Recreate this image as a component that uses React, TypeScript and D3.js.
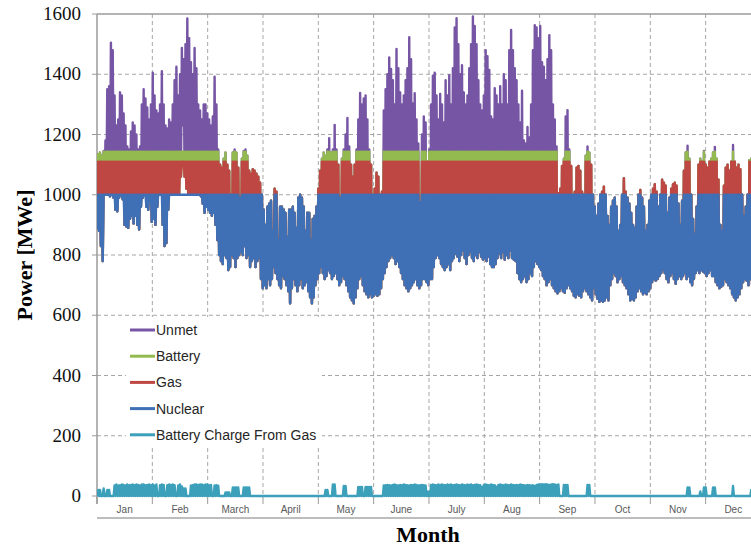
import React from 'react';
import * as d3 from 'd3';

// month labels on the category axis (12 equal bands of 730 h each)
const months = ['Jan', 'Feb', 'March', 'April', 'May', 'June', 'July', 'Aug', 'Sep', 'Oct', 'Nov', 'Dec'];
const yTicks = [0, 200, 400, 600, 800, 1000, 1200, 1400, 1600];

// stack tops [MWe]
const nuclearCap = 1000;
const gasTop = 1110;
const batteryTop = 1143;

// daily peak of total demand [MWe], day 0..364
const dailyPeak = [
  // d0-30
  1135, 1140, 1130, 1145, 1180, 1350, 1360, 1505, 1480, 1330,
  1230, 1250, 1340, 1330, 1270, 1230, 1160, 1150, 1210, 1240,
  1230, 1200, 1150, 1160, 1300, 1350, 1320, 1290, 1250, 1300,
  1405,
  // d31-58
  1330, 1280, 1270, 1300, 1410, 1300, 1230, 1220, 1250, 1240,
  1300, 1380, 1425, 1330, 1400, 1487, 1450, 1500, 1585, 1520,
  1440, 1400, 1487, 1420, 1300, 1280, 1250, 1300,
  // d59-89
  1300, 1270, 1250, 1230, 1260, 1392, 1300, 1150, 1100, 1090,
  1120, 1140, 1100, 1080, 1000, 1140, 1150, 1140, 1090, 990,
  1120, 1145, 1150, 1130, 1080, 1070, 1085, 1080, 1070, 1060,
  1040,
  // d90-119
  1000, 950, 900, 960, 970, 980, 880, 1020, 1010, 850,
  960, 960, 950, 940, 860, 950, 950, 960, 940, 890,
  990, 1000, 990, 960, 880, 940, 940, 850, 920, 930,
  // d120-150
  960, 1020, 1080, 1120, 1140, 1130, 1150, 1188, 1140, 1150,
  1232, 1150, 1100, 990, 1120, 1150, 1200, 1255, 1160, 1100,
  1060, 1100, 1150, 1250, 1338, 1300, 1320, 1330, 1250, 1150,
  1100,
  // d151-181
  1000, 1020, 1073, 1060, 1000, 1010, 1280, 1350, 1400, 1456,
  1418, 1380, 1300, 1484, 1420, 1340, 1300, 1330, 1380, 1420,
  1523, 1450, 1303, 1337, 1250, 1170, 975, 1200, 1260, 1240,
  1110,
  // d182-212
  1150, 1300, 1395, 1405, 1330, 1250, 1335, 1300, 1240, 1380,
  1330, 1397, 1300, 1420, 1555, 1586, 1500, 1400, 1430, 1340,
  1300, 1330, 1420, 1500, 1592, 1560, 1500, 1380, 1300, 1280,
  1330,
  // d213-243
  1480, 1460, 1414, 1260, 1250, 1354, 1330, 1300, 1360, 1300,
  1400, 1380, 1300, 1480, 1547, 1480, 1420, 1380, 1300, 1240,
  1345, 1180, 1170, 1225, 1190, 1300, 1480, 1563, 1555, 1520,
  1560,
  // d244-272
  1440, 1425, 1380, 1450, 1530, 1480, 1300, 1250, 1160, 1005,
  1020, 1096, 1120, 1260, 1281, 1150, 1096, 1000, 1010, 1090,
  1096, 1080, 1010, 1000, 1130, 1160, 1140, 1100, 1000,
  // d273-364
  960, 930, 970, 1000, 1010, 1027, 1000, 930, 900, 960,
  980, 990, 960, 880, 900, 1000, 1055, 1010, 990, 970,
  940, 900, 890, 960, 1000, 1016, 990, 960, 880, 900,
  980, 1000, 1020, 1035, 1010, 960, 1000, 1050, 1040, 1030,
  940, 990, 1020, 1035, 1040, 1030, 970, 900, 980, 1080,
  1140, 1163, 1120, 1000, 920, 870, 960, 1100, 1120, 1110,
  1145, 1100, 1090, 1110, 1120, 1140, 1159, 1120, 1050, 900,
  880, 1030, 1090, 1100, 1080, 1110, 1165, 1110, 1090, 1100,
  1085, 1000, 930, 960, 1000, 1115, 1120, 1100, 1090, 1080,
  1060, 1040,
];

// daily (night) minimum of total demand [MWe]
const dailyLow = [
  // d0-30
  885, 880, 830, 780, 1000, 1000, 1000, 995, 1000, 990,
  950, 945, 990, 1000, 985, 900, 895, 890, 920, 930,
  905, 930, 900, 885, 960, 990, 1000, 960, 950, 980,
  910,
  // d31-58
  920, 900, 960, 1000, 1000, 900, 830, 840, 950, 1000,
  1000, 1000, 1000, 1000, 1000, 1060, 1230, 1060, 1020, 1000,
  1000, 1000, 1000, 1000, 1000, 1000, 995, 970,
  // d59-89
  940, 960, 950, 940, 930, 940, 900, 850, 800, 780,
  770, 800, 790, 750, 760, 800, 790, 760, 790, 800,
  810, 800, 830, 790, 800, 760, 780, 790, 760, 780,
  790,
  // d90-119
  720, 690, 700, 690, 720, 700, 720, 760, 740, 720,
  700, 690, 730, 720, 700, 680, 640, 690, 720, 700,
  680, 700, 720, 690, 700, 710, 680, 660, 640, 660,
  // d120-150
  700, 720, 740, 760, 740, 720, 730, 750, 740, 720,
  730, 740, 720, 700, 710, 730, 720, 700, 680, 660,
  650, 640, 660, 690, 720, 730, 700, 680, 670, 660,
  670,
  // d151-181
  660, 665, 670, 665, 670, 690, 720, 740, 760, 780,
  790, 800, 790, 770, 780, 760, 740, 720, 700, 690,
  680, 690, 700, 710, 720, 700, 690, 700, 720, 720,
  710,
  // d182-212
  700, 720, 720, 760, 790, 800, 790, 770, 760, 750,
  760, 770, 750, 780, 790, 805, 795, 780, 800, 815,
  790, 770, 800, 810, 790, 780, 800, 790, 810, 795,
  785,
  // d213-243
  790, 780, 795, 770, 760, 760, 770, 790, 805, 790,
  810, 785, 800, 790, 815, 790, 785, 780, 740, 720,
  710, 720, 730, 710, 720, 740, 730, 760, 780, 770,
  760,
  // d244-272
  750, 730, 720, 700, 710, 720, 700, 690, 680, 673,
  680, 690, 680, 675, 690, 700, 690, 680, 665, 660,
  670, 665, 660, 680, 690, 680, 670, 660, 650,
  // d273-364
  690, 670, 655, 645, 650, 645, 650, 660, 650, 700,
  720, 740, 730, 710, 720, 730, 710, 700, 690, 670,
  650, 655, 650, 660, 680, 690, 680, 670, 675, 670,
  680, 690, 710, 720, 715, 720, 730, 740, 750, 740,
  720, 710, 730, 740, 720, 705, 720, 730, 720, 730,
  740, 720, 730, 710, 700, 720, 740, 750, 740, 750,
  745, 740, 730, 740, 750, 730, 730, 710, 700, 690,
  695, 700, 720, 710, 700, 690, 670, 660, 650, 660,
  670, 690, 710, 720, 715, 700, 720, 700, 690, 680,
  690, 700,
];

// daily peak of battery charging from gas [MWe]
const batteryCharge = [
  20, 20, 0, 25, 0, 20, 20, 0, 0, 35, 38, 35, 36, 38, 37, 35, 38, 36, 37, 38,
  36, 38, 37, 35, 38, 38, 36, 37, 38, 36, 38, 35, 38, 0, 36, 38, 37, 0, 36, 38,
  37, 38, 36, 0, 35, 38, 32, 25, 25, 0, 0, 35, 36, 38, 38, 37, 38, 38, 36, 38,
  38, 36, 37, 0, 35, 36, 34, 0, 0, 0, 12, 12, 12, 0, 28, 28, 28, 28, 0, 0,
  28, 28, 28, 28, 0, 0, 0, 0, 0, 0, 0, 0, 0, 0, 0, 0, 0, 0, 0, 0,
  0, 0, 0, 0, 0, 0, 0, 0, 0, 0, 0, 0, 0, 0, 0, 0, 0, 0, 0, 0,
  0, 0, 0, 0, 0, 20, 20, 0, 0, 38, 38, 0, 0, 0, 0, 33, 33, 0, 0, 0,
  0, 0, 0, 30, 30, 30, 0, 30, 30, 30, 30, 0, 0, 0, 0, 0, 0, 35, 36, 37,
  36, 35, 37, 38, 36, 35, 37, 36, 38, 37, 36, 35, 37, 36, 38, 37, 35, 36, 37, 36,
  35, 14, 14, 37, 38, 37, 36, 38, 37, 38, 37, 36, 38, 37, 38, 36, 37, 38, 37, 36,
  38, 37, 36, 38, 37, 38, 36, 37, 38, 37, 36, 30, 37, 38, 37, 36, 38, 37, 36, 31,
  37, 38, 37, 36, 38, 37, 36, 38, 37, 36, 37, 36, 38, 37, 36, 35, 37, 36, 35, 36,
  33, 37, 38, 38, 39, 38, 39, 38, 37, 38, 39, 38, 37, 38, 0, 0, 37, 37, 37, 0,
  0, 0, 0, 0, 0, 0, 0, 0, 0, 37, 37, 0, 0, 0, 0, 0, 0, 0, 0, 0,
  0, 0, 0, 0, 0, 0, 0, 0, 0, 0, 0, 0, 0, 0, 0, 0, 0, 0, 0, 0,
  0, 0, 0, 0, 0, 0, 0, 0, 0, 0, 0, 0, 0, 0, 0, 0, 0, 0, 0, 0,
  0, 0, 0, 0, 28, 28, 0, 0, 0, 0, 0, 15, 0, 28, 28, 0, 0, 0, 28, 28,
  0, 0, 0, 0, 0, 0, 0, 0, 0, 33, 0, 0, 0, 0, 0, 0, 0, 0, 0, 20,
  0, 0, 0, 0, 0,
];

const colors = {
  unmet: '#7655A4',
  battery: '#92BA4E',
  gas: '#BE4744',
  nuclear: '#3F70B6',
  charge: '#3CA0BA',
};

export default function App() {
  const width = 751;
  const height = 546;
  const left = 97;
  const top = 14;
  const bottom = 496;
  const monthW = 55.33;

  const x = d3.scaleLinear().domain([0, 365]).range([left, left + 12 * monthW]);
  const y = d3.scaleLinear().domain([0, 1600]).range([bottom, top]);
  const line = d3.line<number[]>().x(d => x(d[0])).y(d => y(d[1]));

  // two samples a day: night low, afternoon peak
  const demand = dailyPeak.flatMap((p, i) => [[i + 0.15, dailyLow[i]], [i + 0.65, p]]);
  const capped = (cap: number) => demand.map(([t, v]) => [t, Math.min(v, cap)]);
  const charge = batteryCharge.flatMap((c, i) => [[i + 0.15, 0], [i + 0.65, c]]);

  const series = [
    {name: 'Unmet', color: colors.unmet, pts: demand},
    {name: 'Battery', color: colors.battery, pts: capped(batteryTop)},
    {name: 'Gas', color: colors.gas, pts: capped(gasTop)},
    {name: 'Nuclear', color: colors.nuclear, pts: capped(nuclearCap)},
  ];

  const bounds = d3.range(13).map(k => k * 365 / 12);
  const legend = [
    {name: 'Unmet', color: colors.unmet},
    {name: 'Battery', color: colors.battery},
    {name: 'Gas', color: colors.gas},
    {name: 'Nuclear', color: colors.nuclear},
    {name: 'Battery Charge From Gas', color: colors.charge},
  ];
  const grid = '#A6A6A6';

  return (
    <svg width={width} height={height} style={{position: 'absolute', left: 0, top: 0, background: '#fff'}}>
      <defs>
        <clipPath id="plot">
          <rect x={left} y={0} width={width - left} height={bottom + 4} />
        </clipPath>
      </defs>

      {/* horizontal gridlines */}
      {yTicks.filter(v => v > 0 && v < 1600).map(v => (
        <line key={v} x1={left} x2={width} y1={y(v)} y2={y(v)} stroke={grid} strokeDasharray="4,3" />
      ))}
      {/* month gridlines */}
      {bounds.slice(1, 12).map(b => (
        <line key={b} x1={x(b)} x2={x(b)} y1={top} y2={bottom} stroke={grid} strokeDasharray="4,3" />
      ))}
      {/* frame */}
      <line x1={left} x2={width} y1={top} y2={top} stroke="#9A9A9A" strokeWidth={1.5} />
      <line x1={left} x2={left} y1={top} y2={bottom + 8} stroke="#9A9A9A" strokeWidth={1.5} />
      {bounds.slice(0, 12).map(b => (
        <line key={'t' + b} x1={x(b)} x2={x(b)} y1={bottom} y2={bottom + 8} stroke="#9A9A9A" />
      ))}
      {yTicks.map(v => (
        <line key={'yt' + v} x1={left - 5} x2={left} y1={y(v)} y2={y(v)} stroke="#9A9A9A" />
      ))}
      <line x1={left} x2={width} y1={518} y2={518} stroke="#BDBDBD" strokeWidth={2} />

      {/* series */}
      <g clipPath="url(#plot)" fill="none" strokeLinejoin="round" strokeWidth={2.4}>
        {series.map(s => (
          <path key={s.name} d={line(s.pts) ?? ''} stroke={s.color} />
        ))}
        <path d={line(charge) ?? ''} stroke={colors.charge} />
      </g>

      {/* legend */}
      <rect x={126} y={317} width={196} height={131} fill="#fff" />
      {legend.map((l, i) => (
        <g key={l.name} transform={`translate(130,${330 + i * 26.2})`}>
          <line x1={0} x2={25} y1={0} y2={0} stroke={l.color} strokeWidth={3} />
          <text x={26} y={5} fontFamily="'Liberation Sans', Arial, sans-serif" fontSize={14} fill="#262626">
            {l.name}
          </text>
        </g>
      ))}

      {/* y tick labels */}
      {yTicks.map(v => (
        <text key={'yl' + v} x={81} y={y(v) + 6} textAnchor="end"
          fontFamily="'Liberation Serif', 'Times New Roman', serif" fontSize={19} fill="#111">
          {v}
        </text>
      ))}
      {/* month labels */}
      {months.map((m, i) => (
        <text key={m} x={x((bounds[i] + bounds[i + 1]) / 2)} y={513} textAnchor="middle"
          fontFamily="'Liberation Sans', Arial, sans-serif" fontSize={10} fill="#595959">
          {m}
        </text>
      ))}

      <text transform="translate(32,255) rotate(-90)" textAnchor="middle"
        fontFamily="'Liberation Serif', 'Times New Roman', serif" fontSize={22} fontWeight="bold">
        Power [MWe]
      </text>
      <text x={428} y={542} textAnchor="middle"
        fontFamily="'Liberation Serif', 'Times New Roman', serif" fontSize={22} fontWeight="bold">
        Month
      </text>
    </svg>
  );
}
